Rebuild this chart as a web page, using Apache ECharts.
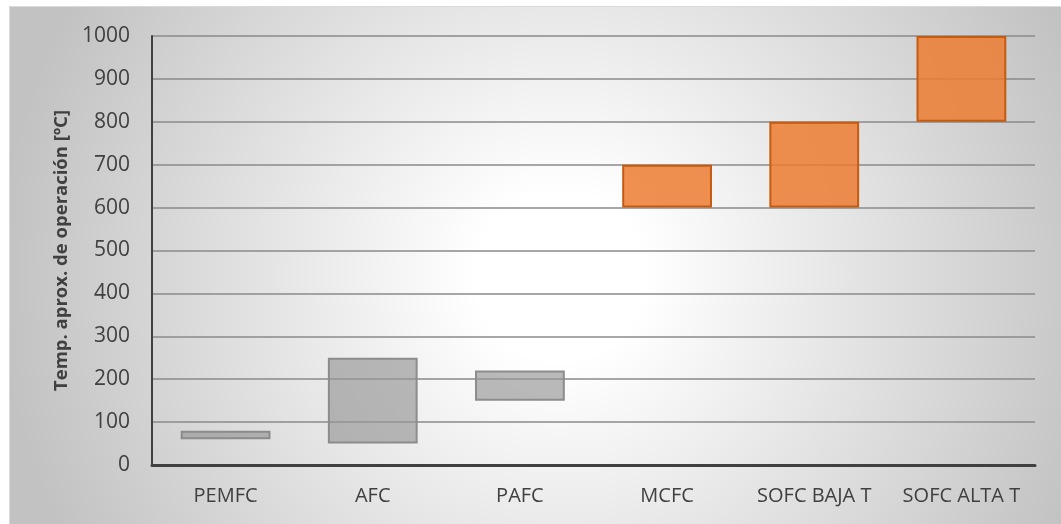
<!DOCTYPE html>
<html>
<head>
<meta charset="utf-8">
<script src="https://cdn.jsdelivr.net/npm/echarts@6/dist/echarts.min.js"></script>
<style>
  html, body { margin: 0; padding: 0; background: #fff; }
  #chart {
    position: absolute;
    left: 9px;
    top: 6px;
    width: 1052px;
    height: 518px;
    border-left: 1px solid #d9d9d9;
    border-top: 1px solid #d9d9d9;
    box-sizing: border-box;
    background: radial-gradient(circle 560px at 550px 270px, #ffffff 15%, #c2c2c2 100%);
  }
</style>
</head>
<body>
<div id="chart"></div>
<script>
// rango aproximado de temperatura de operación por tipo de pila
const categories = ['PEMFC', 'AFC', 'PAFC', 'MCFC', 'SOFC BAJA T', 'SOFC ALTA T'];
const minTemp = [60, 50, 150, 600, 600, 800];
const maxTemp = [80, 250, 220, 700, 800, 1000];
const yTicks = [0, 100, 200, 300, 400, 500, 600, 700, 800, 900, 1000];

const FONT = '"Open Sans", "Liberation Sans", sans-serif';
const TEXT = '#404040';

const chart = echarts.init(document.getElementById('chart'), null, { renderer: 'canvas' });

// las tres primeras (baja temperatura) en gris, el resto en naranja
const isHot = (i) => minTemp[i] >= 500;

chart.setOption({
  backgroundColor: 'transparent',
  animation: false,
  grid: { left: 142, right: 26, top: 29, bottom: 59 },
  xAxis: {
    type: 'category',
    data: categories,
    axisTick: { show: false },
    axisLine: { show: true, lineStyle: { color: TEXT, width: 3 } },
    axisLabel: { color: TEXT, fontSize: 20, fontFamily: FONT, margin: 21, interval: 0 },
  },
  yAxis: {
    type: 'value',
    min: yTicks[0],
    max: yTicks[yTicks.length - 1],
    interval: 100,
    name: 'Temp. aprox. de operación [ºC]',
    nameLocation: 'middle',
    nameGap: 80,
    nameTextStyle: { color: TEXT, fontSize: 18.5, fontWeight: 'bold', fontFamily: FONT },
    axisLine: { show: true, lineStyle: { color: TEXT, width: 2 } },
    axisTick: { show: false },
    axisLabel: {
      color: TEXT,
      fontSize: 21,
      fontFamily: FONT,
      margin: 22,
      formatter: (v) => String(v),
    },
    splitLine: { lineStyle: { color: '#8a8a8a', width: 1.5 } },
  },
  series: [
    {
      name: 'base',
      type: 'bar',
      stack: 'rango',
      silent: true,
      barWidth: '61%',
      itemStyle: { color: 'transparent' },
      data: minTemp,
    },
    {
      name: 'rango',
      type: 'bar',
      stack: 'rango',
      barWidth: '61%',
      data: maxTemp.map((v, i) => ({
        value: v - minTemp[i],
        itemStyle: isHot(i)
          ? { color: 'rgba(237,125,49,0.85)', borderColor: '#c55a11', borderWidth: 2 }
          : { color: 'rgba(150,150,150,0.66)', borderColor: '#8c8c8c', borderWidth: 2 },
      })),
    },
  ],
});
</script>
</body>
</html>
